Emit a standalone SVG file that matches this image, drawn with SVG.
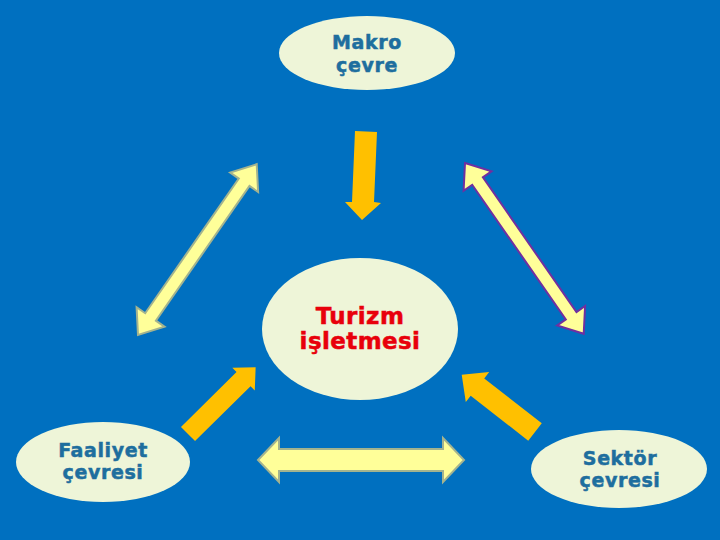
<svg xmlns="http://www.w3.org/2000/svg" width="720" height="540" viewBox="0 0 720 540">
<style>
.bg{fill:#0070C0}
.node ellipse{fill:#EEF5D8}
.lbl{font-family:"DejaVu Sans","Liberation Sans",sans-serif;font-weight:bold;font-size:19px;fill:#1E6E9E;stroke:#1E6E9E;stroke-width:0.5px;text-anchor:middle;letter-spacing:0.6px}
.center{font-family:"DejaVu Sans","Liberation Sans",sans-serif;font-weight:bold;font-size:23px;fill:#E8000B;stroke:#E8000B;stroke-width:0.5px;text-anchor:middle;letter-spacing:0.4px}
.orange{fill:#FFC000}
.dbl{fill:#FFFF99;stroke-width:2;stroke-linejoin:miter}
.grey{stroke:#A3B38F}
.purple{stroke:#7030A0}
</style>
<rect class="bg" x="0" y="0" width="720" height="540"/>
<g id="connectors">
<polygon class="orange" points="355,131 377,132 374,202 381,203 362,220 345,202 352,202"/>
<polygon class="dbl grey" transform="translate(138,335) rotate(-55.2)" points="0,0 22,-17 22,-6.5 186,-6.5 186,-17 208,0 186,17 186,6.5 22,6.5 22,17"/>
<polygon class="dbl purple" transform="translate(465,163) rotate(55.2)" points="0,0 22,-17 22,-6.5 186,-6.5 186,-17 208,0 186,17 186,6.5 22,6.5 22,17"/>
<polygon class="dbl grey" transform="translate(258,460)" points="0,0 21,-22 21,-11 185,-11 185,-22 206,0 185,22 185,11 21,11 21,22"/>
<polygon class="orange" transform="translate(188,434) rotate(-44.6)" points="0,-10 78,-10 78,-16 95,0 78,16 78,10 0,10"/>
<polygon class="orange" transform="translate(535,432) rotate(-142)" points="0,-11 73,-11 73,-19 93,0 73,19 73,11 0,11"/>
</g>
<g id="makro" class="node">
<ellipse cx="367" cy="53" rx="88" ry="37"/>
<text class="lbl" x="367" y="49">Makro</text>
<text class="lbl" x="367" y="72">çevre</text>
</g>
<g id="turizm" class="node">
<ellipse cx="360" cy="329" rx="98" ry="71"/>
<text class="center" x="360" y="324">Turizm</text>
<text class="center" x="360" y="349">işletmesi</text>
</g>
<g id="faaliyet" class="node">
<ellipse cx="103" cy="462" rx="87" ry="40"/>
<text class="lbl" x="103" y="457">Faaliyet</text>
<text class="lbl" x="103" y="479">çevresi</text>
</g>
<g id="sektor" class="node">
<ellipse cx="619" cy="469" rx="88" ry="39"/>
<text class="lbl" x="620" y="465">Sektör</text>
<text class="lbl" x="620" y="487">çevresi</text>
</g>
</svg>
